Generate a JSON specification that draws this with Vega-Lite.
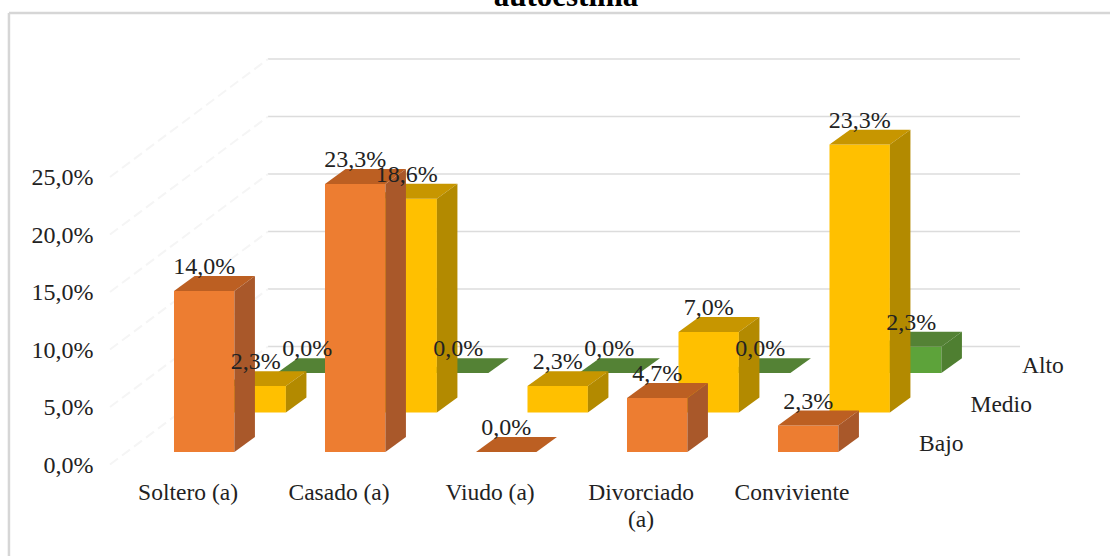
{"$schema":"https://vega.github.io/schema/vega-lite/v6.json","width":1110,"height":556,"padding":0,"autosize":{"type":"none"},"background":"#ffffff","config":{"view":{"stroke":null},"text":{"font":"Liberation Serif"}},"datasets":{"barras":[{"categoria":"Soltero (a)","nivel":"Alto","valor":0.0},{"categoria":"Casado (a)","nivel":"Alto","valor":0.0},{"categoria":"Viudo (a)","nivel":"Alto","valor":0.0},{"categoria":"Divorciado (a)","nivel":"Alto","valor":0.0},{"categoria":"Conviviente","nivel":"Alto","valor":2.3},{"categoria":"Soltero (a)","nivel":"Medio","valor":2.3},{"categoria":"Casado (a)","nivel":"Medio","valor":18.6},{"categoria":"Viudo (a)","nivel":"Medio","valor":2.3},{"categoria":"Divorciado (a)","nivel":"Medio","valor":7.0},{"categoria":"Conviviente","nivel":"Medio","valor":23.3},{"categoria":"Soltero (a)","nivel":"Bajo","valor":14.0},{"categoria":"Casado (a)","nivel":"Bajo","valor":23.3},{"categoria":"Viudo (a)","nivel":"Bajo","valor":0.0},{"categoria":"Divorciado (a)","nivel":"Bajo","valor":4.7},{"categoria":"Conviviente","nivel":"Bajo","valor":2.3}],"lineas":[{"valor":5},{"valor":10},{"valor":15},{"valor":20},{"valor":25},{"valor":30}]},"layer":[{"data":{"name":"lineas"},"transform":[{"calculate":"datum.valor+4.17","as":"yp"}],"mark":{"type":"rule","color":"#dcdcdc","strokeWidth":1.5},"encoding":{"x":{"datum":0.6225,"type":"quantitative","scale":{"domain":[-1.1523,6.1987],"nice":false,"zero":false},"axis":null},"x2":{"datum":5.603},"y":{"field":"yp","type":"quantitative","scale":{"domain":[-9.0435,39.304],"nice":false,"zero":false},"axis":{"orient":"left","offset":-93,"values":[0,5,10,15,20,25],"domain":false,"ticks":false,"grid":false,"title":null,"labelPadding":0,"labelOffset":13.5,"labelFont":"Liberation Serif","labelFontSize":24,"labelColor":"#222222","labelAlign":"right","labelBaseline":"middle","labelExpr":"replace(format(datum.value,'.1f'),'.',',')+'%'"}}}},{"data":{"name":"lineas"},"transform":[{"calculate":"datum.valor+4.17","as":"yp"},{"calculate":"datum.yp-10.26","as":"yq"}],"mark":{"type":"rule","color":"#f5f5f5","strokeWidth":2,"strokeDash":[10,5]},"encoding":{"x":{"datum":-0.424,"type":"quantitative"},"x2":{"datum":0.6225},"y":{"field":"yq","type":"quantitative"},"y2":{"field":"yp"}}},{"data":{"values":[{"borde":"arriba"}]},"mark":{"type":"rule","color":"#d6d6d6","strokeWidth":2.5},"encoding":{"x":{"datum":-1.093,"type":"quantitative"},"x2":{"datum":6.1987},"y":{"datum":38.17,"type":"quantitative"}}},{"data":{"values":[{"borde":"izquierda"}]},"mark":{"type":"rule","color":"#d6d6d6","strokeWidth":2.5},"encoding":{"x":{"datum":-1.093,"type":"quantitative"},"y":{"datum":38.17,"type":"quantitative"},"y2":{"datum":-9.0435}}},{"data":{"values":[{"titulo":"autoestima"}]},"mark":{"type":"text","font":"Liberation Serif","fontSize":31,"fontWeight":"bold","color":"#000000","align":"center","baseline":"alphabetic"},"encoding":{"x":{"datum":2.596,"type":"quantitative"},"y":{"datum":38.78,"type":"quantitative"},"text":{"field":"titulo"}}},{"data":{"name":"barras"},"transform":[{"calculate":"indexof(['Soltero (a)','Casado (a)','Viudo (a)','Divorciado (a)','Conviviente'],datum.categoria)","as":"i"},{"calculate":"indexof(['Bajo','Medio','Alto'],datum.nivel)","as":"j"},{"calculate":"datum.i+datum.j*0.341","as":"x0"},{"calculate":"datum.j*3.43","as":"yb"},{"calculate":"datum.yb+datum.valor","as":"yt"},{"calculate":"['frente','tapa','lado']","as":"cara"},{"flatten":["cara"]},{"calculate":"[0,1,2,3]","as":"k"},{"flatten":["k"]},{"calculate":"datum.cara=='frente'?[0,0.4,0.4,0.4][datum.k]:datum.cara=='lado'?[0.4,0.536,0.536,0.536][datum.k]:[0,0.136,0.4,0.536][datum.k]","as":"dx"},{"calculate":"datum.x0+datum.dx","as":"px"},{"calculate":"datum.cara=='frente'?datum.yt:datum.cara=='lado'?datum.yt+(datum.k>0?1.3:0):datum.yt+(datum.k==3?1.3:0)","as":"py"},{"calculate":"datum.cara=='frente'?datum.yb:datum.cara=='lado'?datum.yb+(datum.k>0?1.3:0):datum.yt+(datum.k>0?1.3:0)","as":"py2"},{"calculate":"datum.categoria+'|'+datum.nivel+'|'+datum.cara","as":"pieza"},{"calculate":"datum.nivel+'-'+datum.cara","as":"tono"}],"mark":{"type":"area"},"encoding":{"x":{"field":"px","type":"quantitative"},"y":{"field":"py","type":"quantitative"},"y2":{"field":"py2"},"detail":{"field":"pieza"},"color":{"field":"tono","type":"nominal","legend":null,"scale":{"domain":["Bajo-frente","Bajo-tapa","Bajo-lado","Medio-frente","Medio-tapa","Medio-lado","Alto-frente","Alto-tapa","Alto-lado"],"range":["#ED7D31","#BC5F22","#A9582A","#FFC000","#C79600","#B38A00","#5DA33A","#548235","#4F7F31"]}}}},{"data":{"name":"barras"},"transform":[{"calculate":"indexof(['Soltero (a)','Casado (a)','Viudo (a)','Divorciado (a)','Conviviente'],datum.categoria)","as":"i"},{"calculate":"indexof(['Bajo','Medio','Alto'],datum.nivel)","as":"j"},{"calculate":"datum.i+datum.j*0.341+0.2","as":"xc"},{"calculate":"datum.j*3.43+datum.valor","as":"yt"},{"calculate":"replace(format(datum.valor,'.1f'),'.',',')+'%'","as":"rotulo"}],"mark":{"type":"text","font":"Liberation Serif","fontSize":24,"color":"#222222","align":"center","baseline":"middle","dy":-24},"encoding":{"x":{"field":"xc","type":"quantitative"},"y":{"field":"yt","type":"quantitative"},"text":{"field":"rotulo"}}},{"data":{"name":"barras"},"transform":[{"filter":"datum.nivel=='Bajo'"},{"calculate":"indexof(['Soltero (a)','Casado (a)','Viudo (a)','Divorciado (a)','Conviviente'],datum.categoria)+0.093","as":"xc"},{"calculate":"replace(datum.categoria,'Divorciado (a)','Divorciado\\n(a)')","as":"etiqueta"}],"mark":{"type":"text","font":"Liberation Serif","fontSize":23.5,"color":"#222222","align":"center","baseline":"top","lineBreak":"\n","lineHeight":27},"encoding":{"x":{"field":"xc","type":"quantitative"},"y":{"datum":-2.5,"type":"quantitative"},"text":{"field":"etiqueta"}}},{"data":{"name":"barras"},"transform":[{"filter":"datum.categoria=='Conviviente'"},{"calculate":"indexof(['Bajo','Medio','Alto'],datum.nivel)","as":"j"},{"calculate":"4.934+datum.j*0.341","as":"xs"},{"calculate":"0.7+datum.j*3.4","as":"ys"}],"mark":{"type":"text","font":"Liberation Serif","fontSize":23.5,"color":"#222222","align":"left","baseline":"middle"},"encoding":{"x":{"field":"xs","type":"quantitative"},"y":{"field":"ys","type":"quantitative"},"text":{"field":"nivel"}}}]}
